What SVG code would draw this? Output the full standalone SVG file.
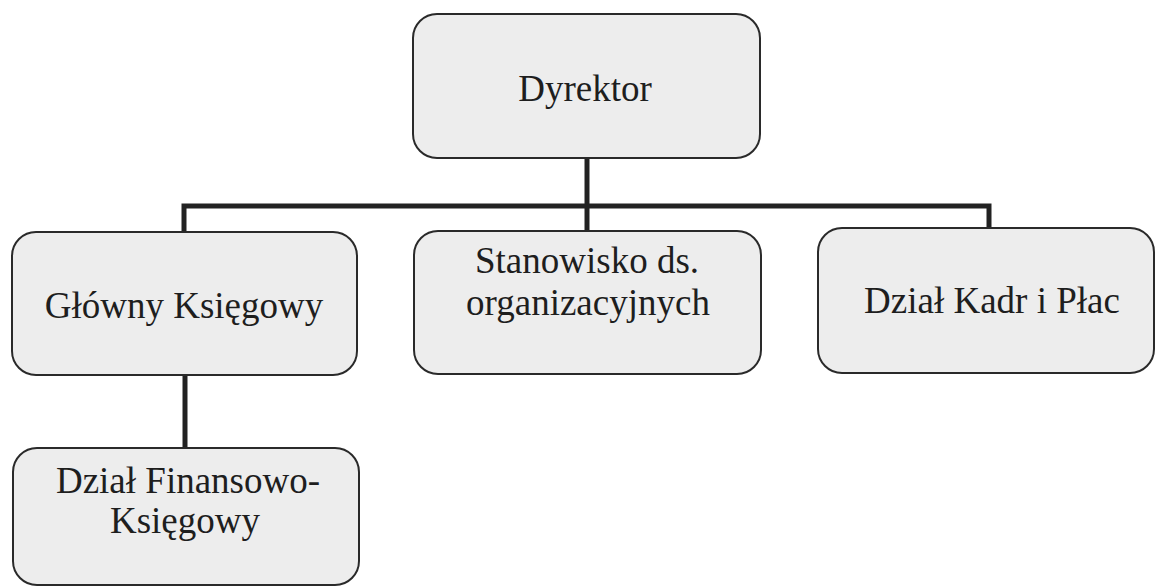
<svg xmlns="http://www.w3.org/2000/svg" width="1155" height="588" viewBox="0 0 1155 588">
<style>
.box{fill:#ededed;stroke:#2a2a2a;stroke-width:2}
.lbl{font-family:"Liberation Serif","Times New Roman",serif;font-size:37px;fill:#1e1e1e;text-anchor:middle}
.con{fill:none;stroke:#222;stroke-width:5;stroke-linejoin:miter}
</style>
<rect width="1155" height="588" fill="#ffffff"/>
<g id="connectors">
<path class="con" d="M587,158 V206"/>
<path class="con" d="M184,232 V206 H989 V228"/>
<path class="con" d="M587,206 V231"/>
<path class="con" d="M185,375 V448"/>
</g>
<g id="dyrektor">
<rect class="box" x="413" y="14" width="347" height="144" rx="24"/>
<text class="lbl" x="585" y="101">Dyrektor</text>
</g>
<g id="glowny">
<rect class="box" x="12" y="232" width="345" height="143" rx="24"/>
<text class="lbl" x="184" y="318">Główny Księgowy</text>
</g>
<g id="stanowisko">
<rect class="box" x="414" y="231" width="347" height="143" rx="24"/>
<text class="lbl" x="587" y="273">Stanowisko ds.</text>
<text class="lbl" x="588" y="315">organizacyjnych</text>
</g>
<g id="kadr">
<rect class="box" x="818" y="228" width="336" height="145" rx="24"/>
<text class="lbl" x="992" y="313">Dział Kadr i Płac</text>
</g>
<g id="finansowo">
<rect class="box" x="13" y="448" width="346" height="137" rx="24"/>
<text class="lbl" x="188" y="493">Dział Finansowo-</text>
<text class="lbl" x="185" y="533">Księgowy</text>
</g>
</svg>
